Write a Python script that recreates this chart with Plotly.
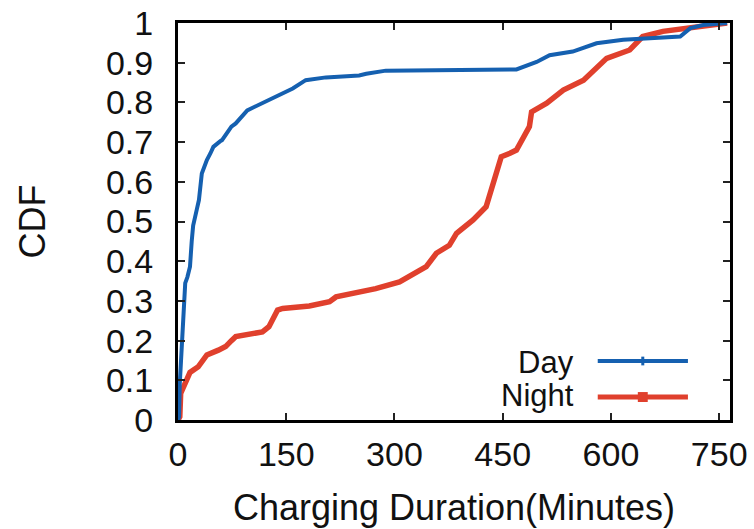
import plotly.graph_objects as go

# ---- data ----
day_x = [0, 1.4, 2.5, 3.7, 5, 8.3, 10, 13, 16.6, 19, 21, 26, 29, 33, 40, 45, 49, 59, 61, 74, 80, 96,
         126, 147, 159, 177, 205, 251, 261, 288, 376, 469, 497, 515, 547, 580, 617, 672, 696, 710, 728, 761]
day_y = [0, 0.008, 0.093, 0.134, 0.219, 0.302, 0.345, 0.36, 0.386, 0.45, 0.49, 0.53, 0.554, 0.621, 0.655, 0.672, 0.688, 0.703, 0.705, 0.739, 0.747, 0.78,
         0.806, 0.825, 0.835, 0.856, 0.863, 0.868, 0.872, 0.88, 0.882, 0.883, 0.902, 0.919, 0.928, 0.949, 0.958, 0.962, 0.966, 0.987, 0.995, 1.0]

night_x = [0, 2.5, 3.7, 7, 15, 16.6, 28, 38, 40, 56, 66, 74, 80, 117, 126, 138, 145, 182, 210, 219, 247, 274, 307, 330, 344,
           358, 376, 386, 409, 427, 434, 441, 448, 460, 469, 487, 490, 511, 534, 562, 580, 594, 626, 644, 672, 710, 738, 761]
night_y = [0, 0.008, 0.067, 0.08, 0.118, 0.12, 0.134, 0.16, 0.164, 0.176, 0.185, 0.2, 0.21, 0.222, 0.235, 0.277, 0.281, 0.287, 0.298, 0.31, 0.319, 0.331, 0.348, 0.373, 0.386,
           0.42, 0.44, 0.47, 0.504, 0.537, 0.579, 0.63, 0.663, 0.672, 0.68, 0.739, 0.776, 0.798, 0.831, 0.856, 0.886, 0.911, 0.932, 0.966, 0.979, 0.987, 0.995, 1.0]

x_ticks = [0, 150, 300, 450, 600, 750]
y_ticks = [0, 0.1, 0.2, 0.3, 0.4, 0.5, 0.6, 0.7, 0.8, 0.9, 1]
series_names = ["Day", "Night"]

BLUE = "#1560b0"
RED = "#e0402d"
FONT = "Liberation Sans, Arial, sans-serif"
FS = 34
FT = 36
FL = 31

fig = go.Figure()
fig.add_trace(go.Scatter(x=night_x, y=night_y, mode="lines", name=series_names[1],
                         line=dict(color=RED, width=5.5), showlegend=False))
fig.add_trace(go.Scatter(x=day_x, y=day_y, mode="lines", name=series_names[0],
                         line=dict(color=BLUE, width=4), showlegend=False))

axis_common = dict(showline=True, linecolor="black", linewidth=3, mirror="ticks",
                   ticks="inside", ticklen=7, tickwidth=2, tickcolor="#222",
                   showgrid=False, zeroline=False, automargin=False,
                   tickfont=dict(family=FONT, size=FS, color="#111"))

fig.update_xaxes(range=[0, 765], tickvals=x_ticks, ticktext=[str(v) for v in x_ticks],
                 title=dict(text="Charging Duration(Minutes)", font=dict(family=FONT, size=FT, color="#111"), standoff=24),
                 ticklabelstandoff=2, **axis_common)
fig.update_yaxes(range=[0, 1], tickvals=y_ticks, ticktext=[f"{v:g}" for v in y_ticks],
                 title=dict(text="CDF", font=dict(family=FONT, size=FT, color="#111"), standoff=50),
                 ticklabelstandoff=15, **axis_common)

# ---- legend drawn in paper coordinates (gnuplot style: label on left, sample on right) ----
legend_rows = [(series_names[0], BLUE, 0.1486, 0.1436), (series_names[1], RED, 0.0579, 0.0605)]
for name, col, ly, ty in legend_rows:
    fig.add_annotation(x=0.7205, y=ty, xref="paper", yref="paper", text=name, showarrow=False,
                       xanchor="right", yanchor="middle",
                       font=dict(family=FONT, size=FL, color="#111"))
    fig.add_shape(type="line", xref="paper", yref="paper", x0=0.7604, x1=0.9238, y0=ly, y1=ly,
                  line=dict(color=col, width=4 if col == BLUE else 5))
# markers in the legend samples
fig.add_shape(type="line", xref="paper", yref="paper", x0=0.842, x1=0.842, y0=0.1486 - 0.011, y1=0.1486 + 0.011,
              line=dict(color=BLUE, width=3))
fig.add_shape(type="rect", xref="paper", yref="paper", x0=0.842 - 0.009, x1=0.842 + 0.009,
              y0=0.0579 - 0.0125, y1=0.0579 + 0.0125, line=dict(width=0), fillcolor=RED)

fig.update_layout(width=754, height=529, margin=dict(l=178, r=24, t=23, b=109),
                  plot_bgcolor="white", paper_bgcolor="white",
                  font=dict(family=FONT, color="#111"))

fig.write_html("out.html")
